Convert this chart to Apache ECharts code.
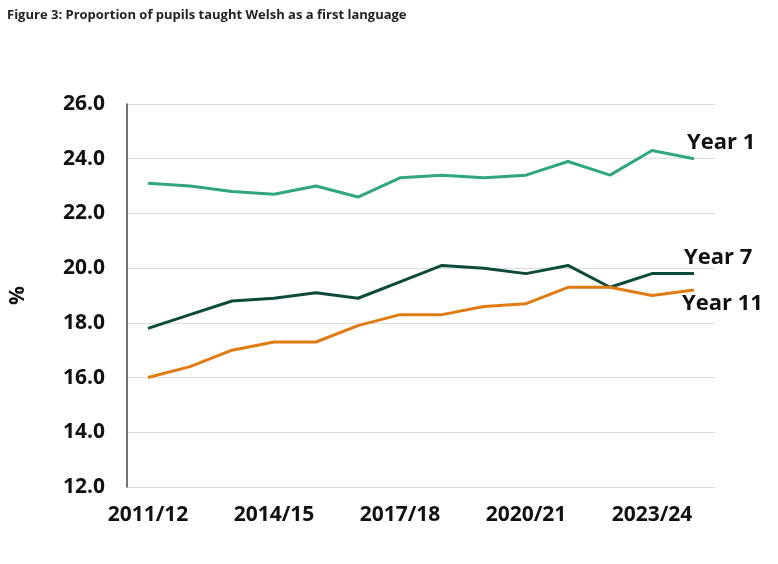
<!DOCTYPE html>
<html><head><meta charset="utf-8">
<script src="https://cdn.jsdelivr.net/npm/echarts@6/dist/echarts.min.js"></script>
<style>body{margin:0;background:#fff}#c{width:778px;height:564px}</style>
</head><body><div id="c"></div>
<script>
const categories=["2011/12","2012/13","2013/14","2014/15","2015/16","2016/17","2017/18","2018/19","2019/20","2020/21","2021/22","2022/23","2023/24","2024/25"];
const year1=[23.1,23.0,22.8,22.7,23.0,22.6,23.3,23.4,23.3,23.4,23.9,23.4,24.3,24.0];
const year7=[17.8,18.3,18.8,18.9,19.1,18.9,19.5,20.1,20.0,19.8,20.1,19.3,19.8,19.8];
const year11=[16.0,16.4,17.0,17.3,17.3,17.9,18.3,18.3,18.6,18.7,19.3,19.3,19.0,19.2];
const F='"Open Sans", sans-serif';
function s(name,data,color,off){return {name,type:'line',data,symbol:'none',lineStyle:{width:3,color},itemStyle:{color},
 endLabel:{show:true,formatter:name,color:'#111',fontFamily:F,fontWeight:'bold',fontSize:22,offset:off}};}
const chart=echarts.init(document.getElementById('c'));
chart.setOption({
 animation:false,
 title:{text:'Figure 3: Proportion of pupils taught Welsh as a first language',left:2,top:4,textStyle:{fontFamily:F,fontSize:13,fontWeight:'bold',color:'#222'}},
 grid:{left:127,right:63,top:104,bottom:77},
 xAxis:{type:'category',boundaryGap:true,data:categories,
  axisLine:{show:false},axisTick:{show:false},
  axisLabel:{interval:2,hideOverlap:false,color:'#111',fontFamily:F,fontWeight:'bold',fontSize:21,margin:18}},
 yAxis:{type:'value',min:12,max:26,interval:2,name:'%',nameLocation:'middle',nameGap:98,nameRotate:90,
  nameTextStyle:{color:'#111',fontFamily:F,fontWeight:'bold',fontSize:21},
  axisLine:{show:true,lineStyle:{color:'#444',width:1.5}},
  splitLine:{lineStyle:{color:'#ddd'}},
  axisLabel:{formatter:v=>v.toFixed(1),color:'#111',fontFamily:F,fontWeight:'bold',fontSize:21,margin:22}},
 series:[s('Year 1',year1,'#2fa67f',[-15,-16]),s('Year 7',year7,'#0d4a3a',[-18,-16]),s('Year 11',year11,'#e07b12',[-20,14])]
});
</script></body></html>
